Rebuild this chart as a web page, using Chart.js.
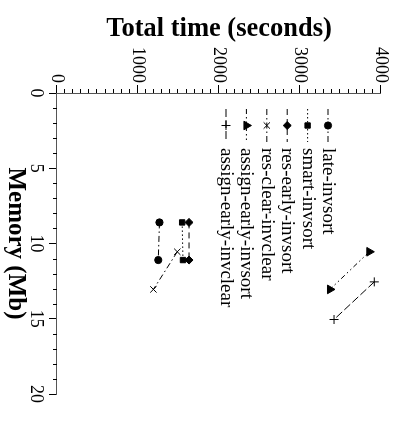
<!DOCTYPE html>
<html>
<head>
<meta charset="utf-8">
<script src="https://cdn.jsdelivr.net/npm/chart.js@4/dist/chart.umd.min.js"></script>
<style>
html,body{margin:0;padding:0;background:#fff;overflow:hidden;width:394px;height:425px;}
#wrap{position:absolute;left:0;top:0;width:425px;height:394px;transform-origin:0 0;transform:translate(394px,0) rotate(90deg);}
canvas{display:block;}
</style>
</head>
<body>
<div id="wrap"><canvas id="c" width="425" height="394"></canvas></div>
<script>
// ---- data (memory in Mb, total time in seconds) ----
const seriesLabels = ['late-invsort','smart-invsort','res-early-invsort','res-clear-invclear','assign-early-invsort','assign-early-invclear'];
const memLate = [8.6, 11.1];
const timeLate = [1265, 1250];
const memSmart = [8.6, 11.1];
const timeSmart = [1545, 1555];
const memResEarly = [8.6, 11.1];
const timeResEarly = [1630, 1630];
const memResClear = [10.55, 13.05];
const timeResClear = [1485, 1190];
const memAssignInvsort = [10.55, 13.05];
const timeAssignInvsort = [3856, 3370];
const memAssignInvclear = [12.55, 15.05];
const timeAssignInvclear = [3917, 3420];
const memoryTicks = [0, 5, 10, 15, 20];
const timeTicks = [0, 1000, 2000, 3000, 4000];
const memoryMinorStep = 1;
const timeMinorStep = 100;

const seriesMem = [memLate, memSmart, memResEarly, memResClear, memAssignInvsort, memAssignInvclear];
const seriesTime = [timeLate, timeSmart, timeResEarly, timeResClear, timeAssignInvsort, timeAssignInvclear];

// ---- styles ----
const styles = [
  {pointStyle:'circle',   radius:3.6, dash:[6,3,1.5,3]},
  {pointStyle:'rect',     radius:3.8, dash:[1.5,2.5]},
  {pointStyle:'rectRot',  radius:4,   dash:[6,4]},
  {pointStyle:'crossRot', radius:4.5, dash:[6,3,1.5,3]},
  {pointStyle:'triangle', radius:5,   dash:[5,3,1.5,3,1.5,3]},
  {pointStyle:'cross',    radius:4.5, dash:[8,3]}
];

const SERIF = '"Liberation Serif", "Times New Roman", serif';

const datasets = seriesLabels.map((lab, i) => ({
  label: lab,
  data: seriesMem[i].map((m, j) => ({x: m, y: seriesTime[i][j]})),
  showLine: true,
  borderColor: '#000',
  backgroundColor: '#000',
  borderWidth: 1,
  borderDash: styles[i].dash,
  pointStyle: styles[i].pointStyle,
  pointRadius: styles[i].radius,
  pointHoverRadius: styles[i].radius,
  pointBackgroundColor: '#000',
  pointBorderColor: '#000',
  pointBorderWidth: 1
}));

const minorTicks = {
  id: 'minorTicks',
  afterDraw(chart) {
    const {ctx, chartArea: a} = chart;
    const xs = chart.scales.x, ys = chart.scales.y;
    ctx.save();
    ctx.strokeStyle = '#000';
    ctx.lineWidth = 1;
    ctx.beginPath();
    for (let m = xs.min; m <= xs.max + 1e-9; m += memoryMinorStep) {
      if (memoryTicks.includes(m)) continue;
      const px = Math.round(xs.getPixelForValue(m)) + 0.5;
      ctx.moveTo(px, a.bottom); ctx.lineTo(px, a.bottom + 4);
    }
    for (let t = ys.min; t <= ys.max + 1e-9; t += timeMinorStep) {
      if (timeTicks.includes(t)) continue;
      const py = Math.round(ys.getPixelForValue(t)) + 0.5;
      ctx.moveTo(a.left, py); ctx.lineTo(a.left - 4, py);
    }
    ctx.stroke();
    ctx.restore();
  }
};

const keyPlugin = {
  id: 'key',
  afterDatasetsDraw(chart) {
    const {ctx, chartArea: a} = chart;
    chart.data.datasets.forEach((ds, i) => {
      const yy = a.top + 53 + i * 20.4;
      const x1 = a.left + 16, x2 = a.left + 49;
      ctx.save();
      ctx.strokeStyle = '#000';
      ctx.fillStyle = '#000';
      ctx.lineWidth = 1;
      ctx.setLineDash(ds.borderDash || []);
      ctx.beginPath();
      ctx.moveTo(x1, yy); ctx.lineTo(x2, yy);
      ctx.stroke();
      ctx.setLineDash([]);
      Chart.helpers.drawPoint(ctx, {pointStyle: ds.pointStyle, radius: ds.pointRadius, borderWidth: 1, rotation: 0}, (x1 + x2) / 2, yy);
      ctx.font = '19px ' + SERIF;
      ctx.textBaseline = 'middle';
      ctx.textAlign = 'left';
      ctx.fillText(ds.label, a.left + 55, yy);
      ctx.restore();
    });
  }
};

new Chart(document.getElementById('c'), {
  type: 'scatter',
  data: {datasets},
  options: {
    responsive: false,
    animation: false,
    devicePixelRatio: 1,
    layout: {padding: {top: 13, right: 31, left: 0, bottom: 0}},
    plugins: {legend: {display: false}, tooltip: {enabled: false}},
    scales: {
      x: {
        type: 'linear', position: 'bottom', min: 0, max: 20,
        afterBuildTicks(s) { s.ticks = memoryTicks.map(v => ({value: v})); },
        afterFit(s) { s.height = 57; },
        ticks: {font: {family: SERIF, size: 18}, color: '#000', padding: 2, maxRotation: 0, autoSkip: false, callback: v => String(v)},
        grid: {drawOnChartArea: false, drawTicks: true, tickLength: 8, color: '#000'},
        border: {display: true, color: '#555', width: 1},
        title: {display: true, text: 'Memory (Mb)', color: '#000', font: {family: SERIF, size: 25, weight: 'bold'}, padding: {top: 0, bottom: 0}}
      },
      y: {
        type: 'linear', position: 'left', min: 0, max: 4000,
        afterBuildTicks(s) { s.ticks = timeTicks.map(v => ({value: v})); },
        afterFit(s) { s.width = 93; },
        ticks: {font: {family: SERIF, size: 18}, color: '#000', padding: 2, autoSkip: false, callback: v => String(v)},
        grid: {drawOnChartArea: false, drawTicks: true, tickLength: 8, color: '#000'},
        border: {display: true, color: '#555', width: 1},
        title: {display: true, text: 'Total time (seconds)', color: '#000', font: {family: SERIF, size: 26.5, weight: 'bold'}, padding: {top: 13, bottom: 0}}
      }
    }
  },
  plugins: [minorTicks, keyPlugin]
});
</script>
</body>
</html>
